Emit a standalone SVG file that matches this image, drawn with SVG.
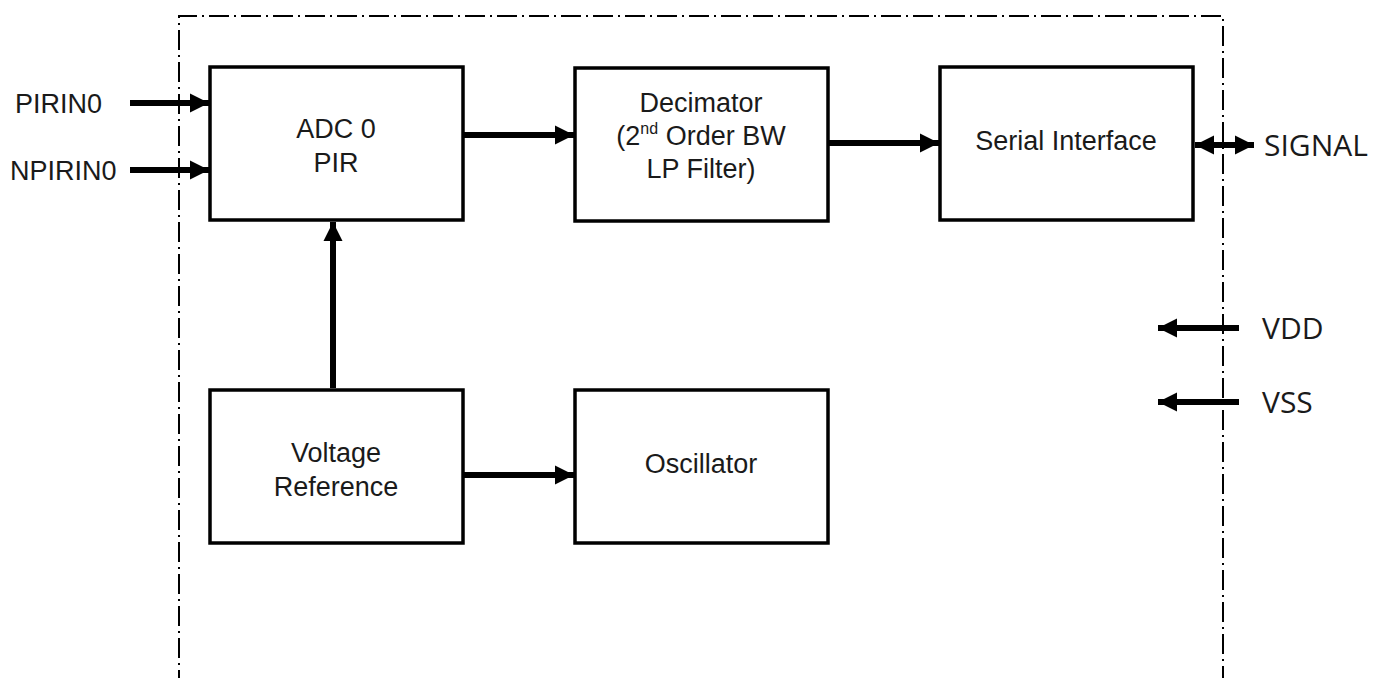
<svg xmlns="http://www.w3.org/2000/svg" width="1391" height="678" viewBox="0 0 1391 678">
<defs>
<style>
.box{fill:#fff;stroke:#000;stroke-width:3.5}
.lbl{font-family:"Liberation Sans",Arial,sans-serif;font-size:27px;fill:#1a1a1a;text-anchor:middle}
.pin{font-family:"Liberation Sans",Arial,sans-serif;font-size:27px;fill:#1a1a1a}
.pin2{font-family:"Open Sans","Noto Sans",sans-serif;font-size:30px;fill:#1a1a1a}
.wire{stroke:#000;stroke-width:6;fill:none}
.border{stroke:#000;stroke-width:2;fill:none;stroke-dasharray:20 5 2 5}
</style>
<marker id="ah" viewBox="0 0 10 10" refX="10" refY="5" markerWidth="3.2" markerHeight="3.2" orient="auto-start-reverse" markerUnits="strokeWidth">
<path d="M0,0 L10,5 L0,10 z" fill="#000"/>
</marker>
</defs>
<rect width="1391" height="678" fill="#fff"/>
<path class="border" d="M179,690 L179,16 L1223,16 L1223,690"/>
<g id="adc"><rect class="box" x="210" y="67" width="253" height="153"/><text class="lbl" x="336" y="138">ADC 0</text><text class="lbl" x="336" y="172">PIR</text></g>
<g id="decimator"><rect class="box" x="575" y="68" width="253" height="153"/><text class="lbl" x="701" y="112">Decimator</text><text class="lbl" x="701" y="145">(2<tspan font-size="16" dy="-11">nd</tspan><tspan dy="11"> Order BW</tspan></text><text class="lbl" x="701" y="178">LP Filter)</text></g>
<g id="serial"><rect class="box" x="940" y="67" width="253" height="153"/><text class="lbl" x="1066" y="150">Serial Interface</text></g>
<g id="vref"><rect class="box" x="210" y="390" width="253" height="153"/><text class="lbl" x="336" y="462">Voltage</text><text class="lbl" x="336" y="496">Reference</text></g>
<g id="osc"><rect class="box" x="575" y="390" width="253" height="153"/><text class="lbl" x="701" y="473">Oscillator</text></g>
<g id="pins">
<text class="pin" x="15" y="113">PIRIN0</text>
<text class="pin" x="10" y="180">NPIRIN0</text>
<text class="pin2" x="1264" y="156">SIGNAL</text>
<text class="pin2" x="1262" y="339">VDD</text>
<text class="pin2" x="1262" y="413">VSS</text>
</g>
<g id="connectors">
<line class="wire" x1="130" y1="103" x2="209" y2="103" marker-end="url(#ah)"/>
<line class="wire" x1="130" y1="170" x2="209" y2="170" marker-end="url(#ah)"/>
<line class="wire" x1="463" y1="135" x2="574" y2="135" marker-end="url(#ah)"/>
<line class="wire" x1="828" y1="143" x2="939" y2="143" marker-end="url(#ah)"/>
<line class="wire" x1="1195" y1="145" x2="1254" y2="145" marker-start="url(#ah)" marker-end="url(#ah)"/>
<line class="wire" x1="1239" y1="328" x2="1158" y2="328" marker-end="url(#ah)"/>
<line class="wire" x1="1239" y1="402" x2="1158" y2="402" marker-end="url(#ah)"/>
<line class="wire" x1="333" y1="388" x2="333" y2="222" marker-end="url(#ah)"/>
<line class="wire" x1="463" y1="475" x2="574" y2="475" marker-end="url(#ah)"/>
</g>
</svg>
